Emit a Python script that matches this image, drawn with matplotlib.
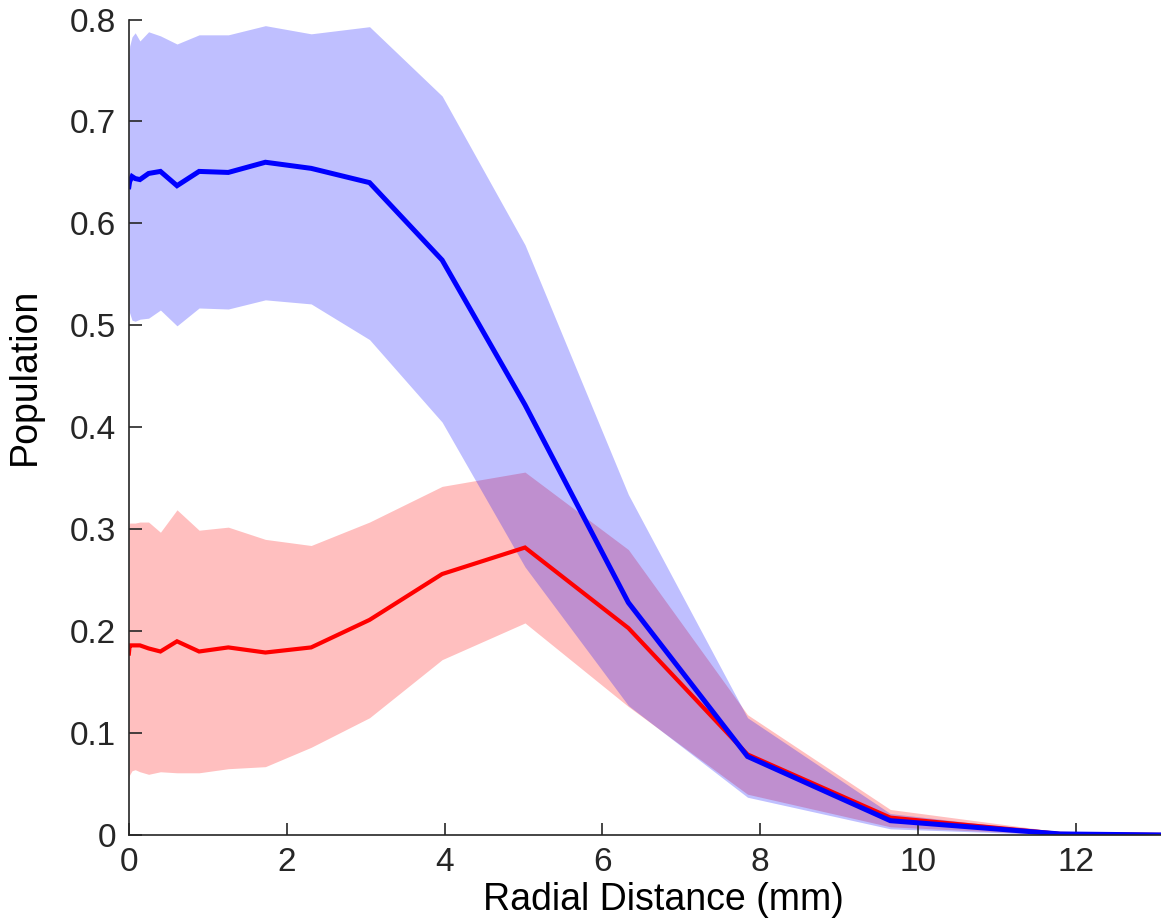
import matplotlib
matplotlib.use("Agg")
import matplotlib.pyplot as plt
import numpy as np

plt.rcParams['font.family'] = ['Liberation Sans', 'DejaVu Sans']

# radial bins (mm)
r = [0.0, 0.01, 0.04, 0.08, 0.14, 0.25, 0.40, 0.61, 0.89, 1.26, 1.73, 2.31,
     3.05, 3.97, 5.02, 6.33, 7.84, 9.65, 11.8, 13.1]

# blue population: mean, lower, upper
blue_mean = [0.636, 0.641, 0.646, 0.644, 0.643, 0.649, 0.651, 0.637, 0.651, 0.650,
             0.660, 0.654, 0.640, 0.564, 0.422, 0.228, 0.077, 0.014, 0.001, 0.0]
blue_lo = [0.515, 0.512, 0.505, 0.504, 0.506, 0.507, 0.515, 0.4995, 0.517, 0.516,
           0.525, 0.521, 0.486, 0.405, 0.263, 0.127, 0.037, 0.006, 0.0, 0.0]
blue_hi = [0.760, 0.774, 0.783, 0.787, 0.779, 0.788, 0.784, 0.776, 0.785, 0.785,
           0.794, 0.786, 0.793, 0.725, 0.579, 0.334, 0.115, 0.021, 0.002, 0.0]

# red population: mean, lower, upper
red_mean = [0.178, 0.186, 0.186, 0.186, 0.186, 0.183, 0.180, 0.190, 0.180, 0.184,
            0.179, 0.184, 0.211, 0.256, 0.282, 0.203, 0.079, 0.017, 0.001, 0.0]
red_lo = [0.055, 0.059, 0.063, 0.064, 0.062, 0.0595, 0.062, 0.061, 0.061, 0.065,
          0.067, 0.086, 0.115, 0.172, 0.208, 0.126, 0.040, 0.008, 0.0, 0.0]
red_hi = [0.300, 0.306, 0.306, 0.306, 0.307, 0.307, 0.297, 0.319, 0.299, 0.302,
          0.290, 0.284, 0.307, 0.342, 0.356, 0.280, 0.118, 0.025, 0.003, 0.0]

fig = plt.figure(figsize=(11.61, 9.22), dpi=100)
ax = fig.add_axes([0.111, 0.0944, 0.889, 0.8844])

ax.fill_between(r, red_lo, red_hi, color='red', alpha=0.25, linewidth=0)
ax.fill_between(r, blue_lo, blue_hi, color='blue', alpha=0.25, linewidth=0)
ax.plot(r, red_mean, color='red', lw=3.0, solid_joinstyle='miter')
ax.plot(r, blue_mean, color='blue', lw=3.6, solid_joinstyle='miter')

ax.set_xlim(0, 13.08)
ax.set_ylim(0, 0.8)
ax.set_xticks(np.arange(0, 13, 2))
ax.set_yticks(np.arange(0, 0.81, 0.1))
ax.set_yticklabels(['0', '0.1', '0.2', '0.3', '0.4', '0.5', '0.6', '0.7', '0.8'])

for s in ['top', 'right']:
    ax.spines[s].set_visible(False)
for s in ['left', 'bottom']:
    ax.spines[s].set_color('#262626')
    ax.spines[s].set_linewidth(1.2)
ax.tick_params(direction='in', length=9, width=1.2, colors='#262626',
               labelsize=24, pad=9)

ax.set_xlabel('Radial Distance (mm)', fontsize=27)
ax.set_ylabel('Population', fontsize=27)
ax.xaxis.set_label_coords(0.518, -0.058)
ax.yaxis.set_label_coords(-0.083, 0.562)

fig.savefig('out.png', dpi=100)
